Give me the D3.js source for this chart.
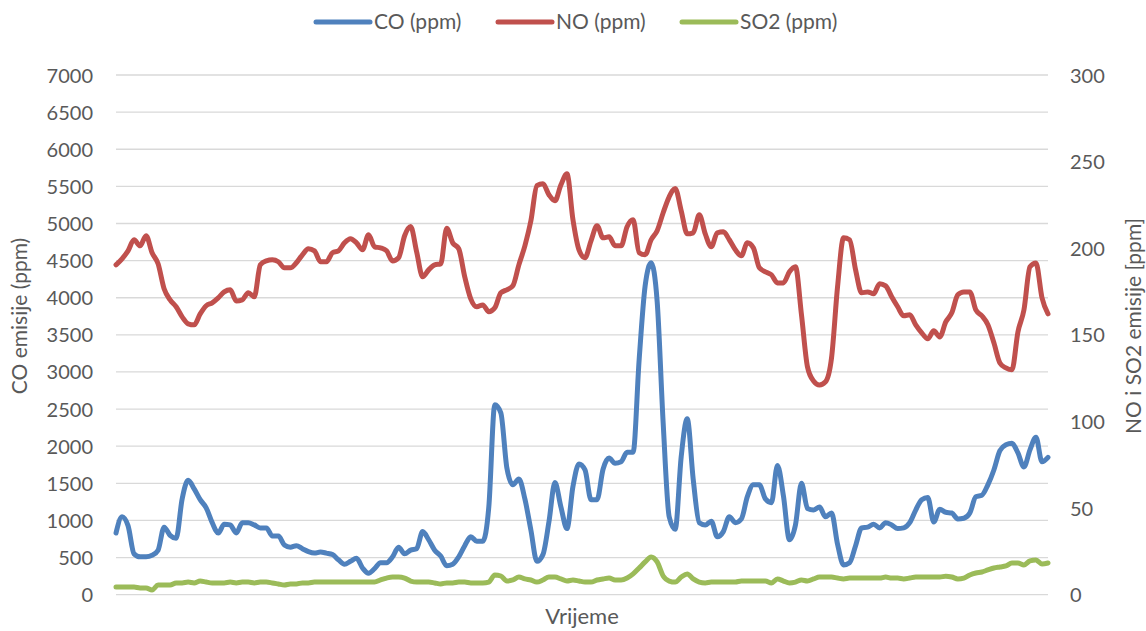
<!DOCTYPE html>
<html>
<head>
<meta charset="utf-8">
<script src="https://cdn.jsdelivr.net/npm/d3@7"></script>
<style>
  body { margin: 0; background: #fff; }
  text { font-family: Lato, 'Liberation Sans', sans-serif; fill: #595959; }
</style>
</head>
<body>
<div id="chart"></div>
<script>
// series names for the legend
var seriesNames = ['CO (ppm)', 'NO (ppm)', 'SO2 (ppm)'];

// CO, left axis (ppm)
var co = [
  830, 1050, 930, 550, 510, 510, 530, 600, 910, 800,
  760, 1290, 1540, 1425, 1280, 1170, 970, 830, 950, 940,
  830, 970, 970, 940, 900, 900, 790, 790, 670, 640,
  660, 620, 580, 560, 575, 560, 540, 470, 410, 450,
  490, 360, 290, 350, 430, 430, 510, 640, 550, 600,
  620, 850, 740, 600, 520, 390, 410, 510, 660, 780,
  720, 720, 1180, 2560, 2450, 1710, 1480, 1560, 1290, 870,
  450, 540, 980, 1510, 1180, 890, 1460, 1760, 1680, 1280,
  1280, 1690, 1840, 1770, 1790, 1920, 1920, 3160, 4160, 4470,
  3950, 2310, 1050, 880, 1860, 2370, 1550, 970, 940, 990,
  780, 850, 1050, 970, 1020, 1320, 1480, 1480, 1290, 1240,
  1740, 1330, 740, 940, 1500, 1160, 1140, 1180, 1050, 1100,
  680, 400, 430, 660, 900, 910, 950, 900, 970, 940,
  890, 900, 970, 1140, 1280, 1310, 980, 1150, 1110, 1100,
  1020, 1030, 1100, 1320, 1340, 1480, 1680, 1940, 2020, 2040,
  1910, 1720, 1950, 2120, 1790, 1850
];

// NO, right axis (ppm)
var no = [
  190.4, 193.9, 198.5, 204.9, 201.4, 207.2, 197.4, 191.0, 176.6, 170.2,
  166.2, 160.4, 156.4, 155.8, 162.1, 166.8, 168.5, 171.4, 174.8, 176.0,
  169.6, 170.2, 174.3, 172.0, 190.4, 192.7, 193.3, 192.2, 188.7, 188.7,
  191.6, 196.2, 199.7, 198.5, 192.2, 192.2, 197.4, 198.5, 203.1, 205.5,
  203.1, 199.1, 207.8, 200.8, 200.2, 198.5, 192.7, 194.5, 207.2, 212.5,
  197.9, 183.5, 187.5, 190.4, 191.0, 211.5, 203.1, 199.7, 183.5, 170.8,
  166.2, 167.3, 163.3, 165.6, 174.3, 176.0, 178.3, 190.4, 201.4, 215.8,
  236.1, 237.2, 230.9, 227.4, 236.6, 243.0, 216.4, 199.1, 194.5, 204.3,
  213.0, 206.0, 206.6, 201.4, 201.4, 212.4, 216.4, 197.4, 196.2, 204.9,
  210.1, 220.5, 229.7, 234.5, 221.6, 208.3, 208.9, 219.3, 208.3, 200.8,
  208.9, 209.5, 204.9, 199.1, 195.6, 203.1, 200.2, 188.7, 186.4, 184.7,
  180.0, 180.0, 186.4, 189.3, 161.6, 131.5, 123.4, 121.1, 122.9, 136.7,
  177.7, 206.0, 204.9, 187.5, 174.3, 174.8, 173.7, 179.5, 178.3, 172.0,
  166.2, 161.0, 161.6, 155.8, 151.2, 147.7, 152.3, 148.8, 157.5, 162.7,
  173.1, 174.8, 174.8, 164.4, 161.0, 155.8, 145.4, 133.8, 130.9, 129.8,
  151.7, 164.4, 189.3, 191.5, 171.4, 162.1
];

// SO2, right axis (ppm)
var so2 = [
  4.4, 4.4, 4.4, 4.4, 3.9, 3.9, 2.7, 5.6, 5.6, 5.6,
  6.8, 6.8, 7.3, 6.8, 7.9, 7.3, 6.8, 6.8, 6.8, 7.3,
  6.8, 7.3, 7.3, 6.8, 7.3, 7.3, 6.8, 6.2, 5.6, 6.2,
  6.2, 6.8, 6.8, 7.3, 7.3, 7.3, 7.3, 7.3, 7.3, 7.3,
  7.3, 7.3, 7.3, 7.3, 8.5, 9.6, 10.2, 10.2, 9.6, 7.9,
  7.3, 7.3, 7.3, 6.8, 6.2, 6.8, 6.8, 7.3, 7.3, 6.8,
  6.8, 6.8, 7.3, 11.4, 10.8, 7.9, 8.5, 10.2, 9.1, 8.5,
  7.3, 8.5, 10.2, 10.2, 9.1, 7.9, 8.5, 7.9, 7.3, 7.3,
  8.5, 9.1, 9.6, 8.5, 8.5, 9.6, 12.0, 15.4, 18.9, 21.8,
  18.9, 10.8, 7.9, 7.3, 10.2, 12.0, 9.1, 7.3, 6.8, 7.3,
  7.3, 7.3, 7.3, 7.3, 7.9, 7.9, 7.9, 7.9, 7.9, 6.8,
  9.1, 7.9, 6.8, 7.3, 8.5, 7.9, 9.1, 10.2, 10.2, 10.2,
  9.6, 9.1, 9.6, 9.6, 9.6, 9.6, 9.6, 9.6, 10.2, 9.6,
  9.6, 9.1, 9.6, 10.2, 10.2, 10.2, 10.2, 10.2, 10.7, 10.2,
  9.1, 9.6, 11.4, 12.5, 13.1, 14.3, 15.4, 16.0, 16.6, 18.3,
  18.3, 17.2, 19.5, 20.0, 17.7, 18.3
];

var leftTicks = d3.range(0, 7001, 500);
var rightTicks = d3.range(0, 301, 50);

var width = 1146, height = 631;
var margin = { top: 75, right: 98, bottom: 36.3, left: 116 };
var colors = ['#4F81BD', '#C0504D', '#9BBB59'];

var svg = d3.select('#chart')
  .append('svg')
    .attr('width', width)
    .attr('height', height);

var x_ = d3.scaleLinear()
  .domain([0, co.length - 1])
  .range([margin.left, width - margin.right]);

var yLeft = d3.scaleLinear()
  .domain([0, 7000])
  .range([height - margin.bottom, margin.top]);

var yRight = d3.scaleLinear()
  .domain([0, 300])
  .range([height - margin.bottom, margin.top]);

// gridlines
svg.append('g')
  .selectAll('line')
  .data(leftTicks)
  .enter()
  .append('line')
    .attr('x1', margin.left)
    .attr('x2', width - margin.right)
    .attr('y1', function(d) { return yLeft(d); })
    .attr('y2', function(d) { return yLeft(d); })
    .attr('stroke', '#D9D9D9')
    .attr('stroke-width', 1.3);

// left axis
var leftAxis = svg.append('g')
  .attr('transform', 'translate(' + (margin.left - 23) + ',0)')
  .call(d3.axisLeft(yLeft).tickValues(leftTicks).tickFormat(d3.format('d'))
    .tickSize(0).tickPadding(0));
leftAxis.select('.domain').remove();
leftAxis.selectAll('text')
  .style('font-size', '20px')
  .attr('dy', '0.35em');

// right axis
var rightAxis = svg.append('g')
  .attr('transform', 'translate(' + (width - margin.right + 22) + ',0)')
  .call(d3.axisRight(yRight).tickValues(rightTicks).tickFormat(d3.format('d'))
    .tickSize(0).tickPadding(0));
rightAxis.select('.domain').remove();
rightAxis.selectAll('text')
  .style('font-size', '20px')
  .attr('dy', '0.35em');

// axis titles
svg.append('text')
  .attr('transform', 'translate(27,316) rotate(-90)')
  .attr('text-anchor', 'middle')
  .style('font-size', '21px')
  .text('CO emisije (ppm)');

svg.append('text')
  .attr('transform', 'translate(1141,326) rotate(-90)')
  .attr('text-anchor', 'middle')
  .style('font-size', '21px')
  .text('NO i SO2 emisije [ppm]');

svg.append('text')
  .attr('x', (margin.left + width - margin.right) / 2)
  .attr('y', 624)
  .attr('text-anchor', 'middle')
  .style('font-size', '22px')
  .text('Vrijeme');

// lines
var lineLeft = d3.line()
  .curve(d3.curveMonotoneX)
  .x(function(d, i) { return x_(i); })
  .y(function(d) { return yLeft(d); });

var lineRight = d3.line()
  .curve(d3.curveMonotoneX)
  .x(function(d, i) { return x_(i); })
  .y(function(d) { return yRight(d); });

var series = [
  { values: co, line: lineLeft },
  { values: no, line: lineRight },
  { values: so2, line: lineRight }
];

svg.append('g')
  .selectAll('path')
  .data(series)
  .enter()
  .append('path')
    .attr('d', function(d) { return d.line(d.values); })
    .attr('fill', 'none')
    .attr('stroke', function(d, i) { return colors[i]; })
    .attr('stroke-width', 5)
    .attr('stroke-linejoin', 'round')
    .attr('stroke-linecap', 'round');

// legend
var legendX = [316, 498, 682];
var legend = svg.append('g')
  .selectAll('g')
  .data(seriesNames)
  .enter()
  .append('g')
    .attr('transform', function(d, i) { return 'translate(' + legendX[i] + ',22)'; });

legend.append('line')
  .attr('x1', 0)
  .attr('x2', 54)
  .attr('stroke', function(d, i) { return colors[i]; })
  .attr('stroke-width', 5)
  .attr('stroke-linecap', 'round');

legend.append('text')
  .attr('x', 58)
  .attr('dy', '0.35em')
  .style('font-size', '21px')
  .text(function(d) { return d; });
</script>
</body>
</html>
